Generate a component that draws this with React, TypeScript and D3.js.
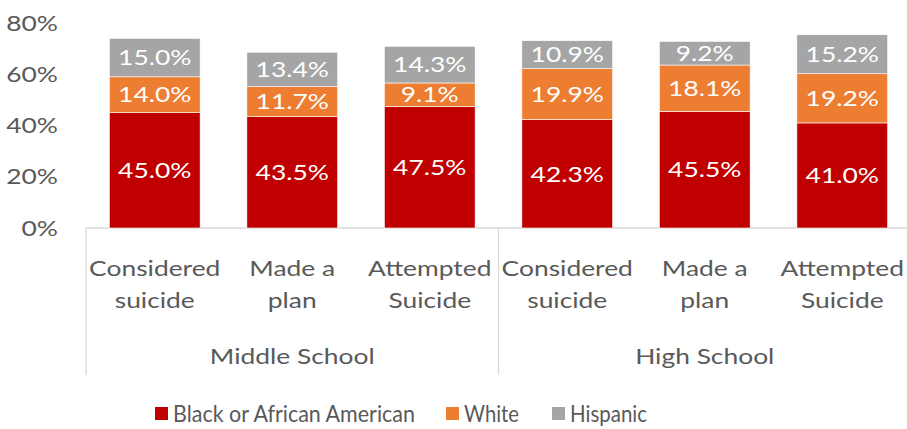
import React, { useEffect, useRef } from 'react';
import * as d3 from 'd3';

const groups = ['Middle School', 'High School'];
const categories = [
  ['Considered', 'suicide'],
  ['Made a', 'plan'],
  ['Attempted', 'Suicide'],
  ['Considered', 'suicide'],
  ['Made a', 'plan'],
  ['Attempted', 'Suicide'],
];
const seriesNames = ['Black or African American', 'White', 'Hispanic'];
const black = [45.0, 43.5, 47.5, 42.3, 45.5, 41.0];
const white = [14.0, 11.7, 9.1, 19.9, 18.1, 19.2];
const hispanic = [15.0, 13.4, 14.3, 10.9, 9.2, 15.2];
const yTicks = [0, 20, 40, 60, 80];

const App = () => {
  const ref = useRef(null);

  useEffect(() => {
    const svg = d3.select(ref.current);
    svg.selectAll('*').remove();

    const width = 907;
    const height = 429;
    const left = 86;
    const right = 911;
    const top = 23;
    const bottom = 228;
    const font = 'Lato, "Open Sans", sans-serif';
    const textColor = '#595959';
    const colors = ['#C00000', '#ED7D31', '#A5A5A5'];
    // the reference text is wider than Lato, stretch it a bit
    const sx = 1.2;
    const at = (px, py) => `translate(${px},${py}) scale(${sx},1)`;

    const rows = categories.map((c, i) => ({ i, black: black[i], white: white[i], hispanic: hispanic[i] }));
    const stack = d3.stack().keys(['black', 'white', 'hispanic'])(rows);

    const x = d3.scaleBand().domain(d3.range(categories.length)).range([left, right]).paddingInner(0.34).paddingOuter(0.17);
    const y = d3.scaleLinear().domain([0, 80]).range([bottom, top]);

    svg.attr('viewBox', [0, 0, width, height]).style('font-family', font);

    // y labels
    svg.append('g')
      .selectAll('text')
      .data(yTicks)
      .join('text')
      .attr('transform', d => at(58, y(d)))
      .attr('dy', '0.35em')
      .attr('text-anchor', 'end')
      .attr('fill', textColor)
      .attr('font-size', 22)
      .text(d => d + '%');

    // category axis lines
    const step = (right - left) / categories.length;
    const axis = svg.append('g').attr('stroke', '#D9D9D9').attr('stroke-width', 1.3);
    axis.append('line').attr('x1', left).attr('x2', right).attr('y1', bottom).attr('y2', bottom);
    [0, 3, 6].forEach(k => {
      axis.append('line')
        .attr('x1', left + k * step).attr('x2', left + k * step)
        .attr('y1', bottom).attr('y2', 375);
    });

    // bars
    const layer = svg.append('g')
      .selectAll('g')
      .data(stack)
      .join('g')
      .attr('fill', (d, i) => colors[i]);

    layer.selectAll('rect')
      .data(d => d)
      .join('rect')
      .attr('x', d => x(d.data.i))
      .attr('y', d => y(d[1]))
      .attr('width', x.bandwidth())
      .attr('height', d => y(d[0]) - y(d[1]))
      .attr('stroke', 'white')
      .attr('stroke-width', 0.6);

    layer.selectAll('text')
      .data(d => d.map(v => ({ v, key: d.key })))
      .join('text')
      .attr('transform', d => at(x(d.v.data.i) + x.bandwidth() / 2, (y(d.v[0]) + y(d.v[1])) / 2))
      .attr('dy', '0.35em')
      .attr('text-anchor', 'middle')
      .attr('fill', 'white')
      .attr('font-size', 22)
      .text(d => d.v.data[d.key].toFixed(1) + '%');

    // category labels
    svg.append('g')
      .selectAll('text')
      .data(categories)
      .join('text')
      .attr('text-anchor', 'middle')
      .attr('fill', textColor)
      .attr('font-size', 22)
      .attr('transform', (d, i) => at(x(i) + x.bandwidth() / 2, 0))
      .selectAll('tspan')
      .data(d => d)
      .join('tspan')
      .attr('x', 0)
      .attr('y', (d, j) => 268 + j * 32)
      .attr('dy', '0.35em')
      .text(d => d);

    // group labels
    svg.append('g')
      .selectAll('text')
      .data(groups)
      .join('text')
      .attr('transform', (d, i) => at(left + (i * 3 + 1.5) * step, 356))
      .attr('dy', '0.35em')
      .attr('text-anchor', 'middle')
      .attr('fill', textColor)
      .attr('font-size', 22)
      .text(d => d);

    // legend
    const legendX = [155, 446, 552];
    const legendW = [242, 55, 77];
    const legend = svg.append('g')
      .selectAll('g')
      .data(seriesNames)
      .join('g')
      .attr('transform', (d, i) => `translate(${legendX[i]},414)`);
    legend.append('rect')
      .attr('x', 0).attr('y', -7).attr('width', 13).attr('height', 13)
      .attr('fill', (d, i) => colors[i]);
    legend.append('text')
      .attr('x', 18)
      .attr('dy', '0.35em')
      .attr('fill', textColor)
      .attr('font-size', 23)
      .attr('textLength', (d, i) => legendW[i])
      .attr('lengthAdjust', 'spacingAndGlyphs')
      .text(d => d);
  }, []);

  return (
    <svg ref={ref} width={907} height={429} style={{ position: 'absolute', left: 0, top: 0 }} />
  );
};

export default App;
